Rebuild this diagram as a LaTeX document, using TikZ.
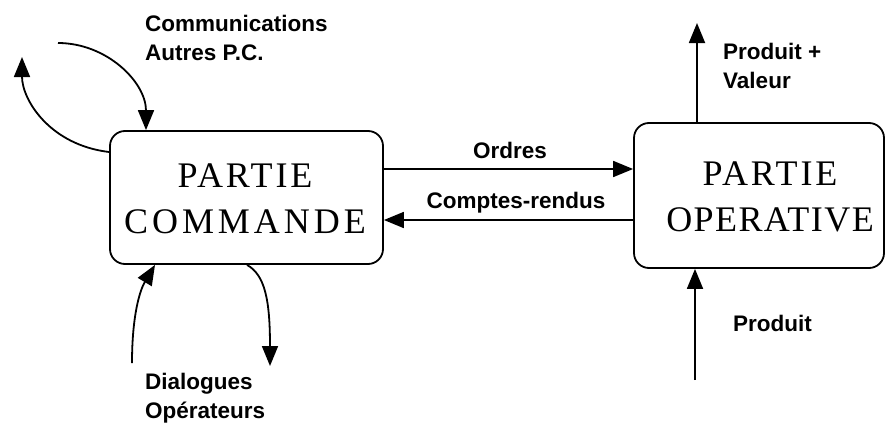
\documentclass[tikz,border=0pt]{standalone}
\usepackage{fontspec}
\setmainfont{Liberation Serif}
\newfontfamily\labfont{Liberation Sans}
\newfontfamily\lsA[LetterSpace=8]{Liberation Serif}
\newfontfamily\lsB[LetterSpace=11]{Liberation Serif}
\newfontfamily\lsC[LetterSpace=4]{Liberation Serif}
\usetikzlibrary{arrows.meta}
\tikzset{
  box/.style={draw, line width=1.8pt, rounded corners=15pt, align=center, inner sep=0pt,
    font=\fontsize{36}{46}\selectfont},
  lab/.style={inner sep=0pt, align=left, font=\labfont\bfseries\fontsize{22.5}{29}\selectfont},
  arr/.style={line width=1.8pt, -{Triangle[length=20pt,width=16pt]}},
}
\begin{document}
\begin{tikzpicture}[x=1pt,y=-1pt]
\useasboundingbox (0,0) rectangle (886,423);
\node[box, minimum width=273pt, minimum height=133pt] (L) at (246.5,197.5) {};
\node[box, minimum width=250pt, minimum height=145pt] (R) at (759,195.5) {};
\node[inner sep=0pt, align=center, font=\fontsize{36}{46}\selectfont] (Lt) at (245,199) {{\lsA PARTIE}\\{\lsB COMMANDE}};
\node[inner sep=0pt, align=center, font=\fontsize{36}{46}\selectfont] (Rt) at (770,197) {{\lsA PARTIE}\\{\lsC OPERATIVE}};

\node[lab, anchor=north west] (comm) at (145,15) {Communications\\Autres P.C.};
\node[lab, anchor=north west] (pv) at (723,43) {Produit +\\Valeur};
\node[lab, anchor=north west] (dial) at (145,373) {Dialogues\\Opérateurs};
\node[lab, anchor=north west] (prod) at (733,315) {Produit};
\node[lab, anchor=north] (ord) at (510,142) {Ordres};
\node[lab, anchor=north] (cr) at (516,192) {Comptes-rendus};

\coordinate (ordY) at (0,169);
\coordinate (crY) at (0,220);
\draw[arr] (L.east |- ordY) -- (R.west |- ordY);
\draw[arr] (R.west |- crY) -- (L.east |- crY);

\coordinate (pvtop) at (697,23);
\draw[arr] (pvtop |- R.north) -- (pvtop);
\coordinate (pbot) at (695,380);
\draw[arr] (pbot) -- (pbot |- R.south);

\coordinate (c1s) at (58,43);
\coordinate (c1x) at (146,0);
\draw[arr] (c1s) .. controls (106.6,43) and (146,82) .. (c1x |- L.north);

\coordinate (c2y) at (0,152);
\coordinate (c2e) at (22,57);
\draw[arr] (L.west |- c2y) .. controls (50,145) and (22,100) .. (c2e);

\coordinate (c3s) at (132,363);
\coordinate (c3x) at (155,0);
\draw[arr] (c3s) .. controls (132,315) and (140,290) .. (c3x |- L.south);

\coordinate (c4x) at (247,0);
\coordinate (c4e) at (270,366);
\draw[arr] (c4x |- L.south) .. controls (265,275) and (270,300) .. (c4e);
\end{tikzpicture}
\end{document}
